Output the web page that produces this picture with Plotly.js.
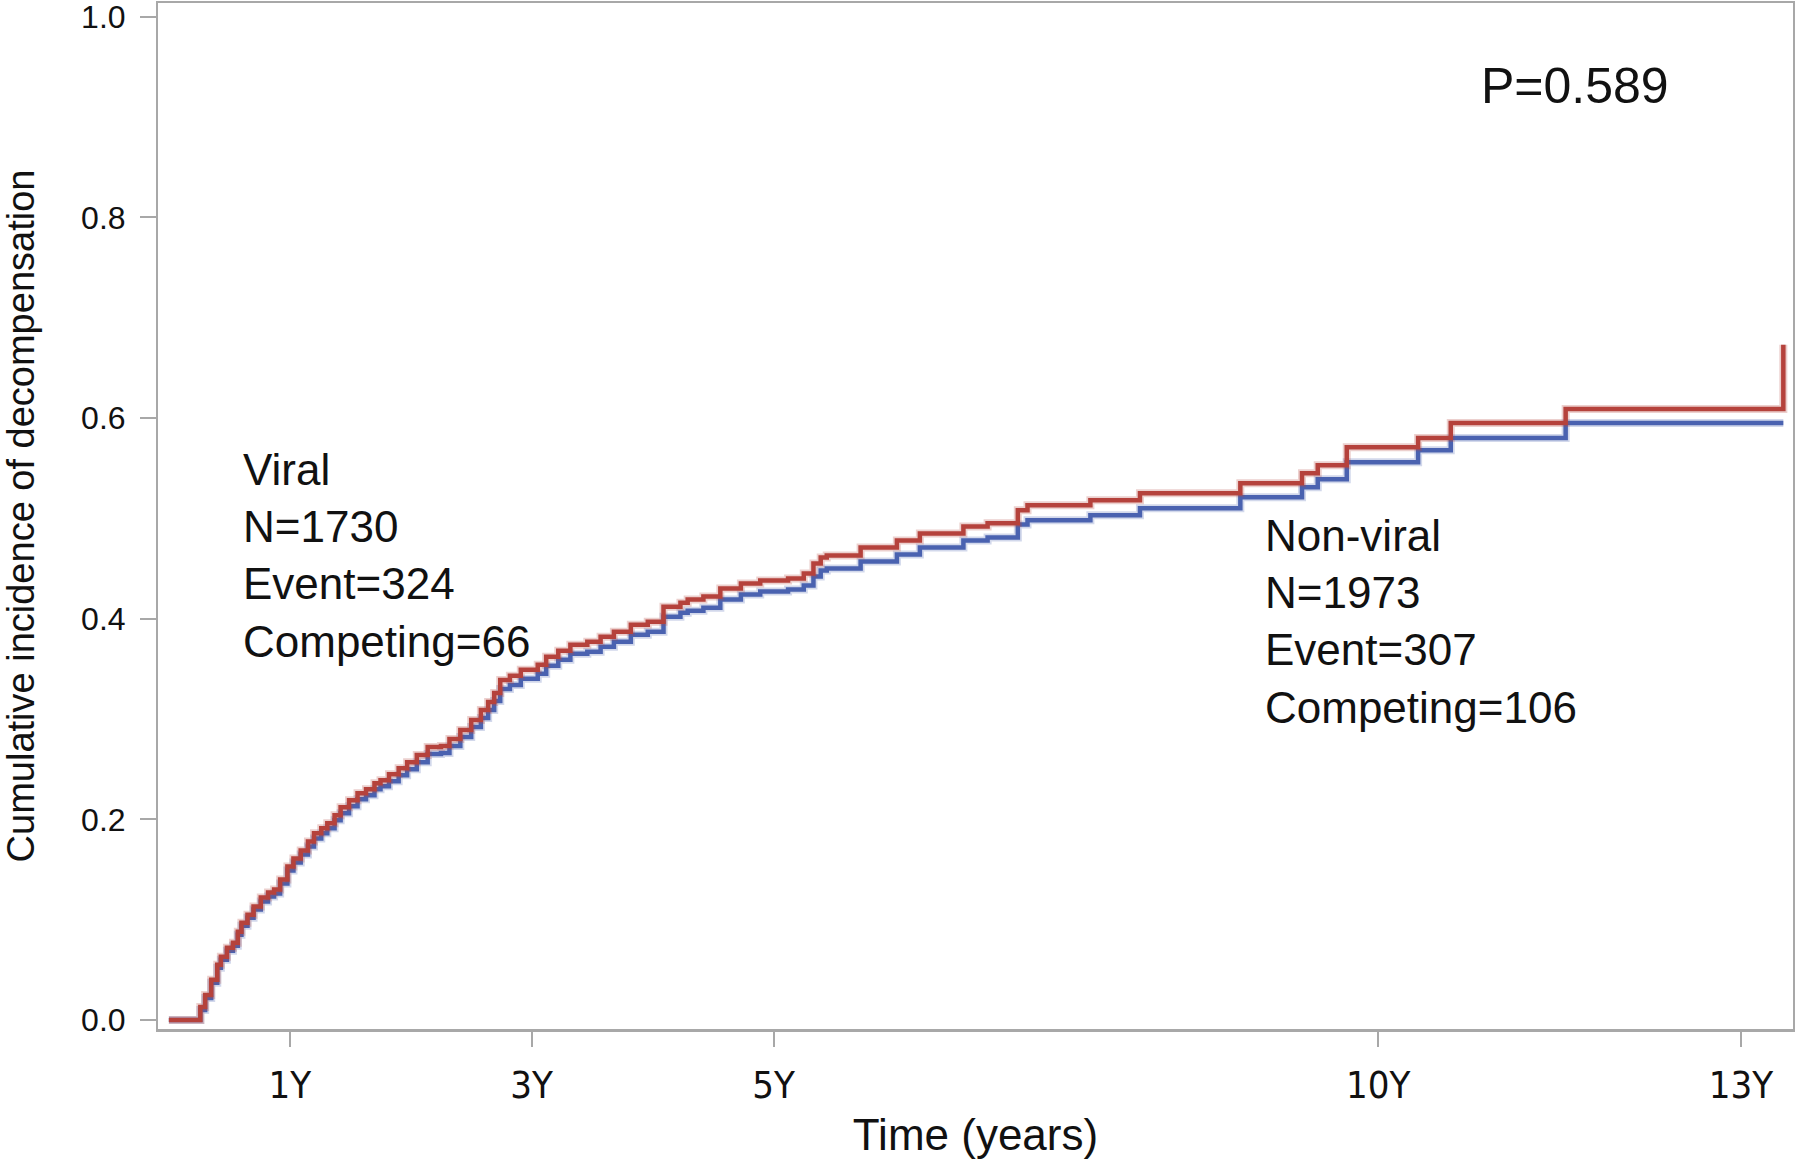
<!DOCTYPE html>
<html>
<head>
<meta charset="utf-8">
<script src="https://cdn.plot.ly/plotly-3.0.1.min.js"></script>
<style>html,body{margin:0;padding:0;background:#fff;}</style>
</head>
<body>
<div id="chart" style="width:1800px;height:1159px;"></div>
<script>
// Step times (years) and cumulative incidence
const redTime = [0, 0.24, 0.26, 0.30, 0.35, 0.40, 0.43, 0.48, 0.53, 0.57, 0.60, 0.65, 0.70, 0.76, 0.82, 0.87, 0.92, 0.98,
  1.03, 1.09, 1.15, 1.20, 1.26, 1.31, 1.37, 1.42, 1.49, 1.56, 1.63, 1.70, 1.75, 1.82, 1.90, 1.97,
  2.05, 2.14, 2.25, 2.32, 2.41, 2.50, 2.58, 2.64, 2.69, 2.74, 2.82, 2.91, 3.05, 3.12, 3.22, 3.32,
  3.46, 3.57, 3.68, 3.82, 3.96, 4.09, 4.23, 4.29, 4.42, 4.56, 4.73, 4.89, 5.12, 5.25, 5.33, 5.39,
  5.44, 5.72, 6.02, 6.21, 6.57, 6.77, 7.02, 7.10, 7.62, 8.03, 8.86, 9.37, 9.50, 9.74, 10.33, 10.60,
  11.55, 13.35, 13.35];
const redCum = [0, 0.000, 0.013, 0.025, 0.040, 0.055, 0.063, 0.072, 0.077, 0.088, 0.097, 0.105, 0.113, 0.122, 0.127, 0.130, 0.140, 0.153,
  0.161, 0.169, 0.178, 0.186, 0.191, 0.196, 0.204, 0.212, 0.219, 0.226, 0.230, 0.236, 0.239, 0.245, 0.251, 0.257,
  0.264, 0.272, 0.273, 0.280, 0.289, 0.299, 0.309, 0.317, 0.326, 0.339, 0.343, 0.349, 0.354, 0.362, 0.368, 0.374,
  0.377, 0.382, 0.387, 0.394, 0.397, 0.412, 0.416, 0.419, 0.422, 0.430, 0.435, 0.438, 0.440, 0.445, 0.455, 0.461,
  0.463, 0.471, 0.478, 0.485, 0.492, 0.495, 0.508, 0.513, 0.518, 0.525, 0.535, 0.545, 0.553, 0.571, 0.580, 0.595,
  0.609, 0.609, 0.673];

const blueTime = [0, 0.24, 0.26, 0.30, 0.35, 0.40, 0.43, 0.48, 0.53, 0.57, 0.60, 0.65, 0.70, 0.76, 0.82, 0.87, 0.92, 0.98,
  1.03, 1.09, 1.15, 1.20, 1.26, 1.31, 1.37, 1.42, 1.49, 1.56, 1.63, 1.70, 1.75, 1.82, 1.90, 1.97,
  2.05, 2.14, 2.25, 2.32, 2.41, 2.50, 2.58, 2.64, 2.69, 2.74, 2.82, 2.91, 3.05, 3.12, 3.22, 3.32,
  3.46, 3.57, 3.68, 3.82, 3.96, 4.09, 4.23, 4.29, 4.42, 4.56, 4.73, 4.89, 5.12, 5.25, 5.33, 5.39,
  5.44, 5.72, 6.02, 6.21, 6.57, 6.77, 7.02, 7.10, 7.62, 8.03, 8.86, 9.37, 9.50, 9.74, 10.33, 10.60,
  11.55, 13.35];
const blueCum = [0, 0.000, 0.010, 0.022, 0.037, 0.052, 0.060, 0.069, 0.074, 0.085, 0.094, 0.102, 0.110, 0.118, 0.123, 0.126, 0.136, 0.149,
  0.157, 0.165, 0.173, 0.181, 0.186, 0.191, 0.199, 0.206, 0.213, 0.220, 0.224, 0.230, 0.233, 0.238, 0.244, 0.250,
  0.257, 0.265, 0.266, 0.273, 0.282, 0.292, 0.301, 0.309, 0.318, 0.330, 0.334, 0.340, 0.345, 0.353, 0.359, 0.365,
  0.367, 0.372, 0.377, 0.384, 0.387, 0.402, 0.406, 0.408, 0.411, 0.419, 0.424, 0.427, 0.429, 0.433, 0.442, 0.448,
  0.450, 0.457, 0.464, 0.471, 0.478, 0.481, 0.494, 0.498, 0.503, 0.510, 0.521, 0.531, 0.539, 0.556, 0.568, 0.580,
  0.595, 0.595];

const xTickVals = [1, 3, 5, 10, 13];
const xTickText = ['1Y', '3Y', '5Y', '10Y', '13Y'];
const yTickVals = [0, 0.2, 0.4, 0.6, 0.8, 1.0];
const yTickText = ['0.0', '0.2', '0.4', '0.6', '0.8', '1.0'];

const viralText = ['Viral', 'N=1730', 'Event=324', 'Competing=66'];
const nonViralText = ['Non-viral', 'N=1973', 'Event=307', 'Competing=106'];
const pValueText = 'P=0.589';

const axisGray = '#a8a8a8';
const blueColor = '#4a62b0';
const redColor = '#b5423c';

const traces = [
  {x: blueTime, y: blueCum, type: 'scatter', mode: 'lines', line: {shape: 'hv', color: 'rgba(74,98,176,0.25)', width: 8}, hoverinfo: 'skip', showlegend: false},
  {x: blueTime, y: blueCum, type: 'scatter', mode: 'lines', name: 'Blue group', line: {shape: 'hv', color: blueColor, width: 4.5}, showlegend: false},
  {x: redTime, y: redCum, type: 'scatter', mode: 'lines', line: {shape: 'hv', color: 'rgba(181,66,60,0.25)', width: 8}, hoverinfo: 'skip', showlegend: false},
  {x: redTime, y: redCum, type: 'scatter', mode: 'lines', name: 'Red group', line: {shape: 'hv', color: redColor, width: 4.5}, showlegend: false}
];

const annFont = {family: 'Liberation Sans, Arial, sans-serif', size: 44, color: '#111'};

const layout = {
  width: 1800, height: 1159,
  margin: {l: 158, r: 7, t: 3, b: 130, pad: 0},
  paper_bgcolor: '#fff', plot_bgcolor: '#fff',
  showlegend: false,
  xaxis: {
    range: [-0.09, 13.43],
    tickvals: xTickVals, ticktext: xTickText,
    ticks: 'outside', ticklen: 15, tickwidth: 2, tickcolor: axisGray,
    showline: true, mirror: true, linecolor: axisGray, linewidth: 2.5,
    showgrid: false, zeroline: false,
    tickfont: {family: 'Liberation Sans Narrow, DejaVu Sans Condensed, sans-serif', size: 38, color: '#111'},
    ticklabelstandoff: 6,
    title: {text: 'Time (years)', font: {family: 'Liberation Sans, Arial, sans-serif', size: 44, color: '#111'}, standoff: 14},
    automargin: false
  },
  yaxis: {
    range: [-0.009, 1.0137],
    tickvals: yTickVals, ticktext: yTickText,
    ticks: 'outside', ticklen: 16, tickwidth: 2, tickcolor: axisGray,
    showline: true, mirror: true, linecolor: axisGray, linewidth: 2,
    showgrid: false, zeroline: false,
    tickfont: {family: 'Liberation Sans, Arial, sans-serif', size: 32, color: '#111'},
    ticklabelstandoff: 8,
    ticklabeloverflow: 'allow',
    title: {text: 'Cumulative incidence of decompensation', font: {family: 'Liberation Sans, Arial, sans-serif', size: 38, color: '#111'}, standoff: 38},
    automargin: false
  },
  annotations: [
    {xref: 'x', yref: 'y', x: 0.60, y: 0.463, xanchor: 'left', yanchor: 'middle', align: 'left', showarrow: false,
     text: viralText.join('<br>'), font: annFont},
    {xref: 'x', yref: 'y', x: 9.05, y: 0.397, xanchor: 'left', yanchor: 'middle', align: 'left', showarrow: false,
     text: nonViralText.join('<br>'), font: annFont},
    {xref: 'x', yref: 'y', x: 10.83, y: 0.931, xanchor: 'left', yanchor: 'middle', align: 'left', showarrow: false,
     text: pValueText, font: {family: 'Liberation Sans, Arial, sans-serif', size: 50, color: '#111'}}
  ]
};

Plotly.newPlot('chart', traces, layout, {displayModeBar: false, staticPlot: true});
</script>
</body>
</html>
